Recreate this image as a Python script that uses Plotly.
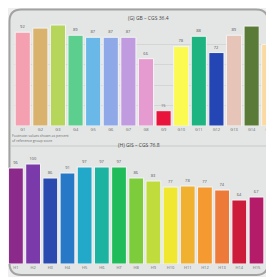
import plotly.graph_objects as go

# page has an 8px body margin, so the figure is drawn 8px in from the page corner
OFF = 8
W, H = 274 - OFF, 277 - OFF

# Top panel data
top_title = "(G) GB – CGS 36.4"
top_labels = ["G1", "G2", "G3", "G4", "G5", "G6", "G7", "G8", "G9", "G10", "G11", "G12", "G13", "G14", "G15"]
top_values = [92, 96, 99, 89, 87, 87, 87, 66, 15, 78, 88, 72, 89, 98, 80]
top_colors = ["#f4a0b0", "#d9b36e", "#b5d65a", "#5ccf8e", "#6ab8e8", "#8ea8e8", "#c09be0", "#e59ad0",
              "#e8143c", "#fafa50", "#1eb482", "#2446b4", "#e6c4b8", "#5a7a38", "#fcd9a0"]

# Bottom panel data
bot_title = "(H) GIS – CGS 76.8"
bot_labels = ["H1", "H2", "H3", "H4", "H5", "H6", "H7", "H8", "H9", "H10", "H11", "H12", "H13", "H14", "H15"]
bot_values = [96, 100, 86, 91, 97, 97, 97, 86, 83, 77, 78, 77, 74, 64, 67]
bot_colors = ["#8c2a8c", "#7a3aaa", "#2a4ab0", "#2878c8", "#22a8c8", "#1cb4a0", "#20bc5a", "#7ccc3c",
              "#c0dc3c", "#f0e830", "#f0b030", "#f59a30", "#ee7a3a", "#cc1c3a", "#b41c6a"]

footnote = "Footnote: values shown as percent<br>of reference group score"

def px(x):
    return max(0.0, min(1.0, (x - OFF) / W))

def py(y):
    return max(0.0, min(1.0, 1 - (y - OFF) / H))

fig = go.Figure()

fig.add_trace(go.Bar(
    x=top_labels, y=top_values, marker=dict(color=top_colors, line=dict(color="#f4f4f4", width=1)),
    text=top_values, textposition="outside", textfont=dict(size=4, color="#555"),
    xaxis="x", yaxis="y", showlegend=False, cliponaxis=True))

fig.add_trace(go.Bar(
    x=bot_labels, y=bot_values, marker=dict(color=bot_colors, line=dict(color="#f4f4f4", width=1)),
    text=bot_values, textposition="outside", textfont=dict(size=4, color="#555"),
    xaxis="x2", yaxis="y2", showlegend=False, cliponaxis=True))

# rounded frame
x0, y0, x1, y1 = px(9.5), py(9.5), px(271), py(275)
rx, ry = 12 / W, 12 / H
path = (f"M {x0+rx},{y0} L {x1-rx},{y0} Q {x1},{y0} {x1},{y0-ry} "
        f"L {x1},{y1+ry} Q {x1},{y1} {x1-rx},{y1} L {x0+rx},{y1} Q {x0},{y1} {x0},{y1+ry} "
        f"L {x0},{y0-ry} Q {x0},{y0} {x0+rx},{y0} Z")

# bottom axis: first bar centre at page x=16, pitch ~17.36 px
bot_left = -(16 - OFF) / 17.36

fig.update_layout(
    width=W, height=H, margin=dict(l=0, r=0, t=0, b=0),
    paper_bgcolor="#efefef", plot_bgcolor="rgba(0,0,0,0)",
    bargap=0.14,
    shapes=[
        dict(type="path", path=path, xref="paper", yref="paper", line=dict(color="#a2a2a2", width=2),
             fillcolor="#e4e6e6", layer="below"),
        dict(type="line", xref="paper", yref="paper", x0=px(10), x1=px(270), y0=py(146), y1=py(146),
             line=dict(color="#c8c8c8", width=1), layer="below"),
    ],
    annotations=[
        dict(text=top_title, x=px(150), y=py(13), xref="paper", yref="paper", showarrow=False,
             font=dict(size=5, color="#444")),
        dict(text=bot_title, x=px(140), y=py(145), xref="paper", yref="paper", showarrow=False,
             font=dict(size=5, color="#444")),
        dict(text=footnote, x=px(10), y=py(131), xref="paper", yref="paper", showarrow=False,
             xanchor="left", yanchor="top", align="left", font=dict(size=3.5, color="#666")),
    ],
    xaxis=dict(domain=[px(14), 1], range=[-0.5, 14.1], showgrid=False, zeroline=False,
               tickfont=dict(size=4, color="#666"), ticks="", showline=False, anchor="y"),
    yaxis=dict(domain=[py(126), py(24)], range=[0, 100], showgrid=True, gridcolor="#d4d6d6",
               gridwidth=1, dtick=20, showticklabels=False, zeroline=False, anchor="x"),
    xaxis2=dict(domain=[0, px(268)], range=[bot_left, 14.5], showgrid=False, zeroline=False,
                tickfont=dict(size=4, color="#666"), ticks="", showline=False, anchor="y2"),
    yaxis2=dict(domain=[py(264), py(155)], range=[0, 109], showgrid=False,
                showticklabels=False, zeroline=False, anchor="x2"),
)

fig.write_html("out.html")
